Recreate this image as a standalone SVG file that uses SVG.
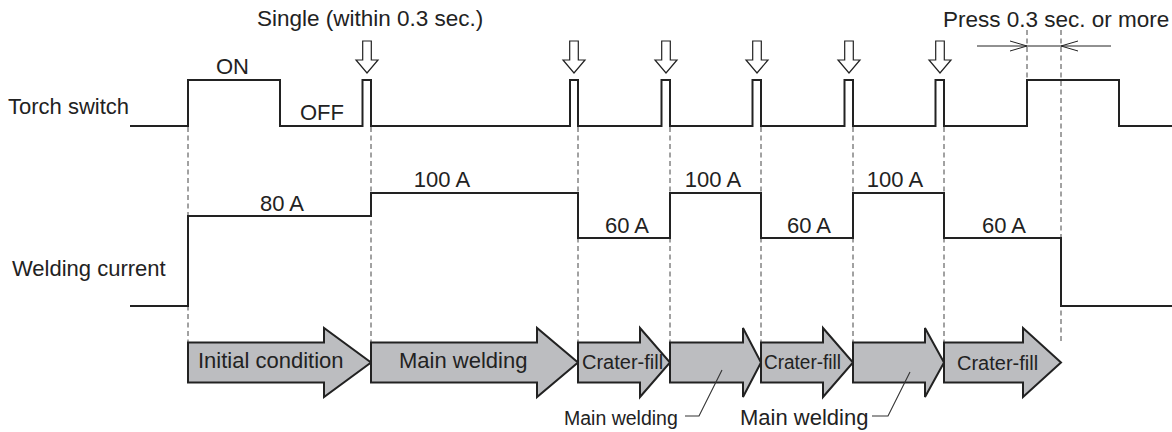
<svg xmlns="http://www.w3.org/2000/svg" width="1172" height="432" viewBox="0 0 1172 432">
<style>
  .t { font-family: "Liberation Sans", Arial, sans-serif; fill: #222; }
  .wave { fill: none; stroke: #222; stroke-width: 2; }
  .dash { fill: none; stroke: #444; stroke-width: 1; stroke-dasharray: 5 3.5; }
  .down { fill: #fff; stroke: #222; stroke-width: 1.2; }
  .blk { fill: #bcbdc0; stroke: #222; stroke-width: 2; stroke-linejoin: miter; }
  .thin { fill: none; stroke: #222; stroke-width: 1; }
  .lead { fill: none; stroke: #333; stroke-width: 1.1; }
</style>
<rect width="1172" height="432" fill="#fff"/>

<g id="guides">
  <line class="dash" x1="188" y1="127" x2="188" y2="343"/>
  <line class="dash" x1="371" y1="127" x2="371" y2="343"/>
  <line class="dash" x1="578" y1="127" x2="578" y2="343"/>
  <line class="dash" x1="670" y1="127" x2="670" y2="343"/>
  <line class="dash" x1="761" y1="127" x2="761" y2="343"/>
  <line class="dash" x1="853" y1="127" x2="853" y2="343"/>
  <line class="dash" x1="944" y1="127" x2="944" y2="343"/>
  <line class="dash" x1="1061" y1="30" x2="1061" y2="343"/>
  <line class="dash" x1="1027" y1="30" x2="1027" y2="80"/>
</g>

<g id="torch-switch">
  <text class="t" x="8" y="114" font-size="22">Torch switch</text>
  <path class="wave" d="M130,126 H188 V80 H280 V126 H362.5 V80 H371 V126 H570 V80 H578 V126 H661.5 V80 H670 V126 H752.5 V80 H761 V126 H844.5 V80 H853 V126 H935.5 V80 H944 V126 H1027 V80 H1119 V126 H1172"/>
  <text class="t" x="216" y="74" font-size="22">ON</text>
  <text class="t" x="300" y="120" font-size="22">OFF</text>
</g>

<g id="press-markers">
  <text class="t" x="257" y="26" font-size="22.5">Single (within 0.3 sec.)</text>
  <polygon class="down" points="362.7,41 371.3,41 371.3,60 378,60 367,73 356,60 362.7,60"/>
  <polygon class="down" points="569.7,41 578.3,41 578.3,60 585,60 574,73 563,60 569.7,60"/>
  <polygon class="down" points="661.7,41 670.3,41 670.3,60 677,60 666,73 655,60 661.7,60"/>
  <polygon class="down" points="752.7,41 761.3,41 761.3,60 768,60 757,73 746,60 752.7,60"/>
  <polygon class="down" points="844.7,41 853.3,41 853.3,60 860,60 849,73 838,60 844.7,60"/>
  <polygon class="down" points="935.7,41 944.3,41 944.3,60 951,60 940,73 929,60 935.7,60"/>
</g>

<g id="long-press">
  <text class="t" x="943" y="27" font-size="22.5">Press 0.3 sec. or more</text>
  <line class="thin" x1="977" y1="46" x2="1111" y2="46"/>
  <polyline class="thin" points="1010,41 1027,46 1010,51"/>
  <polyline class="thin" points="1078,41 1061,46 1078,51"/>
</g>

<g id="welding-current">
  <text class="t" x="12" y="276" font-size="22">Welding current</text>
  <path class="wave" d="M130,306 H188 V216 H371 V193 H578 V238 H670 V193 H761 V238 H853 V193 H944 V238 H1061 V306 H1172"/>
  <text class="t" x="282" y="211" font-size="22" text-anchor="middle">80 A</text>
  <text class="t" x="442" y="187" font-size="22" text-anchor="middle">100 A</text>
  <text class="t" x="713" y="187" font-size="22" text-anchor="middle">100 A</text>
  <text class="t" x="895" y="187" font-size="22" text-anchor="middle">100 A</text>
  <text class="t" x="627" y="233" font-size="22" text-anchor="middle">60 A</text>
  <text class="t" x="809" y="233" font-size="22" text-anchor="middle">60 A</text>
  <text class="t" x="1004" y="233" font-size="22" text-anchor="middle">60 A</text>
</g>

<g id="stage-initial">
  <polygon class="blk" points="188,342.5 324,342.5 324,328 371,362.5 324,397 324,382.5 188,382.5"/>
  <text class="t" x="198" y="368" font-size="22">Initial condition</text>
</g>
<g id="stage-main-1">
  <polygon class="blk" points="371,342.5 537,342.5 537,328 578,362.5 537,397 537,382.5 371,382.5"/>
  <text class="t" x="399" y="368" font-size="22">Main welding</text>
</g>
<g id="stage-crater-1">
  <polygon class="blk" points="578,342.5 640,342.5 640,328 670,362.5 640,397 640,382.5 578,382.5"/>
  <text class="t" x="582" y="369" font-size="20">Crater-fill</text>
</g>
<g id="stage-main-2">
  <polygon class="blk" points="670,342.5 743,342.5 743,328 761,362.5 743,397 743,382.5 670,382.5"/>
</g>
<g id="stage-crater-2">
  <polygon class="blk" points="761,342.5 823,342.5 823,328 853,362.5 823,397 823,382.5 761,382.5"/>
  <text class="t" x="764" y="369" font-size="20" textLength="77" lengthAdjust="spacingAndGlyphs">Crater-fill</text>
</g>
<g id="stage-main-3">
  <polygon class="blk" points="853,342.5 925,342.5 925,328 944,362.5 925,397 925,382.5 853,382.5"/>
</g>
<g id="stage-crater-3">
  <polygon class="blk" points="944,342.5 1023,342.5 1023,328 1061,362.5 1023,397 1023,382.5 944,382.5"/>
  <text class="t" x="957" y="370" font-size="20">Crater-fill</text>
</g>

<g id="callouts">
  <text class="t" x="564" y="425" font-size="19.5">Main welding</text>
  <path class="lead" d="M685,416 H699 L722,370"/>
  <text class="t" x="740" y="425" font-size="22">Main welding</text>
  <path class="lead" d="M872,416 H888 L910,372"/>
</g>
</svg>
